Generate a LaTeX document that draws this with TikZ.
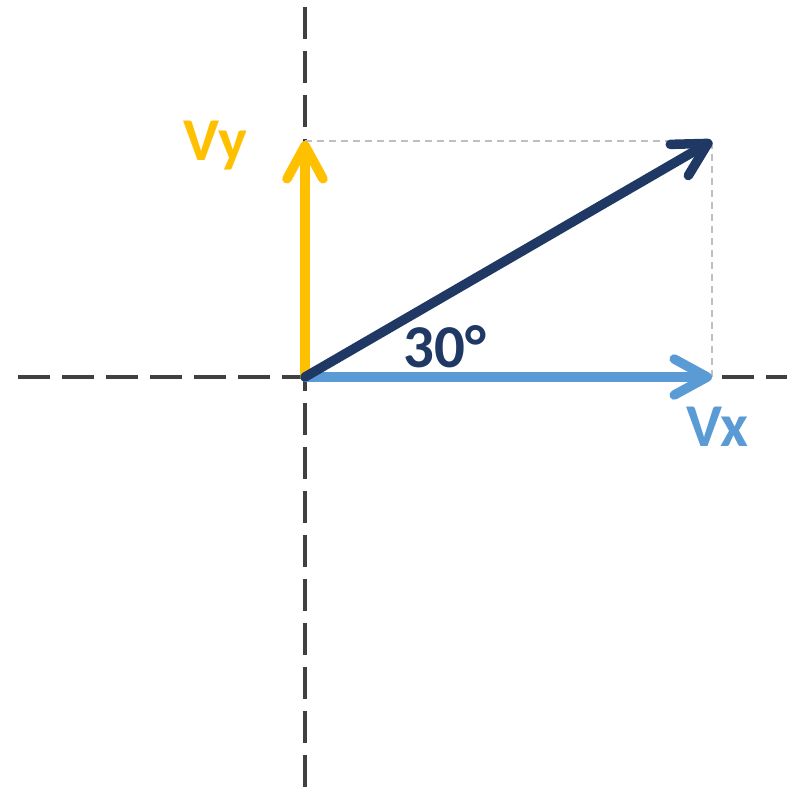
\documentclass[tikz,border=0pt]{standalone}
\usepackage{fontspec}
\setmainfont{Carlito}
\usepackage{xcolor}
\usetikzlibrary{arrows.meta}
\definecolor{axisgray}{HTML}{404040}
\definecolor{guidegray}{HTML}{BFBFBF}
\definecolor{vyellow}{HTML}{FFC000}
\definecolor{vblue}{HTML}{5B9BD5}
\definecolor{vnavy}{HTML}{1F3864}

\begin{document}
\begin{tikzpicture}[x=0.01cm, y=-0.01cm]
 \useasboundingbox (0,0) rectangle (787,787);
    % Define line styles
    \tikzset{axis/.style={draw=axisgray, line width=0.04cm, dash pattern=on 0.32cm off 0.12cm}}
    \tikzset{guide/.style={draw=guidegray, line width=0.012cm, dash pattern=on 0.07cm off 0.05cm}}
    \tikzset{vec/.style={line width=0.095cm, line cap=round, -{Straight Barb[round, length=0.33cm, width=0.36cm]}}}
    \tikzset{lbl/.style={font=\bfseries\fontsize{17.3}{20}\selectfont, anchor=base, inner sep=0pt}}
    % Define the points
    \coordinate (O) at (305, 377);
    \coordinate (X) at (712, 377);
    \coordinate (Y) at (305, 141);
    \coordinate (V) at (712, 141);
    \coordinate (left) at (18, 377);
    \coordinate (right) at (787, 377);
    \coordinate (top) at (305, 7);
    \coordinate (bottom) at (305, 787);
    % Draw the axes
    \draw[axis] (left) -- (right);
    \draw[axis] (top) -- (bottom);
    % Draw the guide lines
    \draw[guide] (Y) -- (V) -- (X);
    % Draw the vectors
    \draw[vec, vyellow] (O) -- (Y);
    \draw[vec, vblue] (O) -- (X);
    \draw[vec, vnavy] (O) -- (V);
    % Labels
    \node[lbl, text=vyellow] (vy) at (215, 160) {Vy};
    \node[lbl, text=vblue] (vx) at (717, 446) {Vx};
    \node[lbl, text=vnavy] (angle) at (445, 367) {30°};
\end{tikzpicture}
\end{document}
